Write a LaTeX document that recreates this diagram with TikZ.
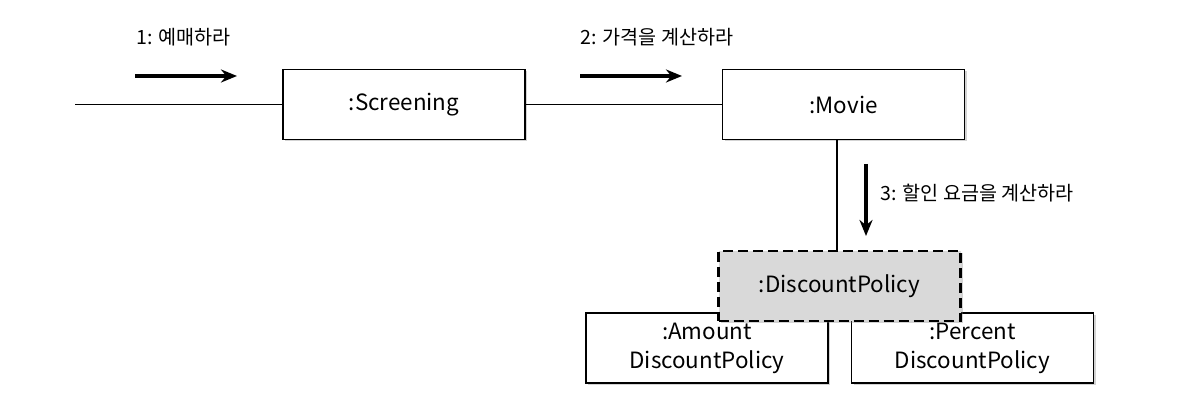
\documentclass[tikz,border=0pt]{standalone}
\usepackage{fontspec}
\setmainfont{Noto Sans CJK KR}
\usetikzlibrary{arrows.meta,positioning,calc,shadows}

\begin{document}
\begin{tikzpicture}[
  x=0.5pt, y=-0.5pt,
  obj/.style={rectangle, draw, line width=0.9pt, fill=white,
    minimum width=121pt, minimum height=35pt,
    font=\fontsize{11.2}{14.5}\selectfont, align=center,
    drop shadow={shadow xshift=1pt, shadow yshift=-1pt, opacity=0.35}},
  abstr/.style={obj, dash pattern=on 5pt off 2.5pt, line width=1.2pt, fill=gray!30},
  link/.style={line width=0.7pt},
  msg/.style={-{Stealth[length=8pt,width=6.5pt]}, line width=1.6pt},
  lbl/.style={font=\fontsize{9.8}{12}\selectfont, anchor=west, inner sep=0pt}
]
\useasboundingbox (0,0) rectangle (1180,416);

% Objects
\node[obj] (screening) at (404,104.5) {:Screening};
\node[obj] (movie) at (843.5,104.5) {:Movie};
\node[obj] (amount) at (707,348) {:Amount\\DiscountPolicy};
\node[obj] (percent) at (972.5,348) {:Percent\\DiscountPolicy};
\node[abstr] (policy) at (839.5,286) {:DiscountPolicy};

% Links
\coordinate (entry) at (75,104.5);
\draw[link] (entry) -- (screening.west);
\draw[link] (screening) -- (movie);
\draw[link] (policy.north -| 837,0) -- (movie.south -| 837,0);

% Messages
\coordinate (m1s) at (135,76);
\coordinate (m1e) at (237,76);
\coordinate (m2s) at (580,76);
\coordinate (m2e) at (682,76);
\coordinate (m3s) at (866,164);
\coordinate (m3e) at (866,236);
\draw[msg] (m1s) -- (m1e);
\draw[msg] (m2s) -- (m2e);
\draw[msg] (m3s) -- (m3e);

\node[lbl] (l1) at (136,37) {1: 예매하라};
\node[lbl] (l2) at (580,37) {2: 가격을 계산하라};
\node[lbl] (l3) at (880,193) {3: 할인 요금을 계산하라};

\end{tikzpicture}
\end{document}
